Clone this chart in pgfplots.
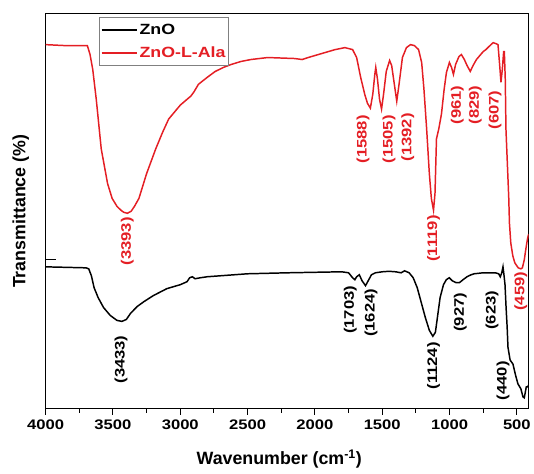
\documentclass[border=0pt]{standalone}
\usepackage{fontspec}
\setmainfont{Liberation Sans}
\newfontfamily\wide{Liberation Sans}[FakeStretch=1.2]
\usepackage{pgfplots}
\pgfplotsset{compat=1.18}
\definecolor{ftred}{RGB}{228,30,36}
\tikzset{anno/.style={rotate=90, anchor=east, inner sep=1bp, font=\wide\bfseries\fontsize{14}{16}\selectfont}}

% y values are read top-down (pixel rows of the reference), hence y dir=reverse
\pgfplotstableread{
x y
4000 45
3850 46
3720 46
3690 46
3670 55
3650 70
3624 100
3587 150
3540 185
3506 200
3470 208
3440 212
3420 214
3393 215
3365 213
3340 208
3307 200
3250 175
3182 150
3130 133
3086 120
3000 106
2940 99
2922 97
2900 93
2865 85
2800 78
2740 72
2680 68
2622 65
2550 62
2475 60
2350 58
2250 58.5
2150 59
2095 60
2050 58
1950 54
1850 50
1777 48
1720 50
1690 58
1660 78
1630 95
1610 104
1588 109
1570 95
1555 75
1548 68
1535 80
1520 100
1505 110
1490 95
1470 72
1445 61
1430 66
1410 85
1392 102
1375 85
1350 58
1320 48
1290 45
1260 46
1230 50
1207 63
1190 90
1170 130
1150 175
1135 200
1119 212
1108 195
1097 140
1080 130
1060 115
1040 90
1023 73
1001 63
985 68
971 75
955 65
930 57
912 55
890 60
870 66
846 72
825 66
800 60
775 56
750 52
730 50
715 48
700 46
676 43
655 44
640 45
628 65
618 83
608 70
598 52
593 52
586 80
581 130
572 160
566 180
560 200
555 225
545 245
530 258
515 265
490 270
470 271
459 270
445 262
432 250
420 240
412 236
}\ala

\pgfplotstableread{
x y
4000 269
3850 269.5
3700 270
3680 271
3660 278
3640 290
3610 300
3570 310
3520 318
3470 323
3433 324
3400 322
3370 316
3320 309
3269 304
3200 298
3100 291
3000 287
2950 284
2930 280
2910 279
2890 281
2850 280
2800 279
2700 278
2600 277
2500 276
2350 275.5
2200 275
2000 274.5
1800 274
1750 275
1720 280
1703 282
1690 279
1670 277
1650 283
1624 288
1600 282
1580 277
1550 275
1500 274
1450 273.5
1400 274
1360 275
1334 273
1300 275
1270 280
1240 290
1210 305
1180 320
1150 333
1124 339
1105 335
1090 320
1070 300
1045 287
1024 282
1002 280
980 283
950 285
927 285
900 282
870 279
840 277
817 276
750 275
700 275
660 275
635 276
623 279
612 275
603 269
595 278
588 287
580 310
572 330
566 350
550 363
529 367
510 378
492 387
470 392
455 400
445 401
438 396
430 390
420 390
412 388
}\zno

\begin{document}
\begin{tikzpicture}
\begin{axis}[
  name=ax,
  scale only axis, width=487bp, height=398bp,
  x dir=reverse, xmin=412, xmax=4000,
  y dir=reverse, ymin=14, ymax=412,
  xtick={500,1000,...,4000}, minor x tick num=1,
  xtick pos=bottom, ytick=\empty, tick align=outside,
  major tick length=6bp, minor tick length=4bp,
  every tick/.style={black, line width=1pt},
  axis line style={line width=1.2pt},
  /pgf/number format/assume math mode=true,
  /pgf/number format/set thousands separator={},
  ticklabel style={font=\wide\bfseries\fontsize{14}{16}\selectfont},
  xticklabel style={yshift=-2bp},
  every axis x label/.style={at={(axis description cs:0.5,0)}, yshift=-51bp, xshift=-8bp, anchor=center},
  every axis y label/.style={at={(axis description cs:0,0.5)}, xshift=-25bp, rotate=90, anchor=center},
  label style={font=\bfseries\fontsize{18}{20}\selectfont},
  xlabel={Wavenumber (cm\textsuperscript{-1})},
  ylabel={Transmittance (\%)},
  legend style={at={(axis description cs:0.111,0.992)}, anchor=north west,
    draw=gray, line width=0.8pt, inner xsep=1bp, inner ysep=5bp,
    row sep=8bp,
    font=\wide\bfseries\fontsize{15}{17}\selectfont,
    nodes={inner sep=1.5bp}},
  legend cell align=left,
  legend image code/.code={\draw[#1, line width=1.8pt] (0bp,0bp) -- (36bp,0bp);},
]
\addplot[black, line width=1.5pt] table {\zno};
\addlegendentry{ZnO}
\addplot[ftred, line width=1.5pt] table {\ala};
\addlegendentry{\textcolor{ftred}{ZnO-L-Ala}}

\node[anno, text=ftred] at (axis cs:3393,218) {(3393)};
\node[anno, text=ftred] at (axis cs:1642,115) {(1588)};
\node[anno, text=ftred] at (axis cs:1450,115) {(1505)};
\node[anno, text=ftred] at (axis cs:1310,113) {(1392)};
\node[anno, text=ftred] at (axis cs:1118,216) {(1119)};
\node[anno, text=ftred] at (axis cs:942,85) {(961)};
\node[anno, text=ftred] at (axis cs:809,85) {(829)};
\node[anno, text=ftred] at (axis cs:662,90) {(607)};
\node[anno, text=ftred] at (axis cs:470,273) {(459)};

\node[anno] at (axis cs:3440,337) {(3433)};
\node[anno] at (axis cs:1738,287) {(1703)};
\node[anno] at (axis cs:1583,290) {(1624)};
\node[anno] at (axis cs:1118,344) {(1124)};
\node[anno] at (axis cs:920,294) {(927)};
\node[anno] at (axis cs:684,292) {(623)};
\node[anno] at (axis cs:603,363) {(440)};
\end{axis}
\draw[line width=1pt] ([yshift=150bp]ax.south west) -- ++(10bp,0);
\path ([shift={(-46bp,-65bp)}]ax.south west) rectangle ([shift={(1bp,14bp)}]ax.north east);
\end{tikzpicture}
\end{document}
